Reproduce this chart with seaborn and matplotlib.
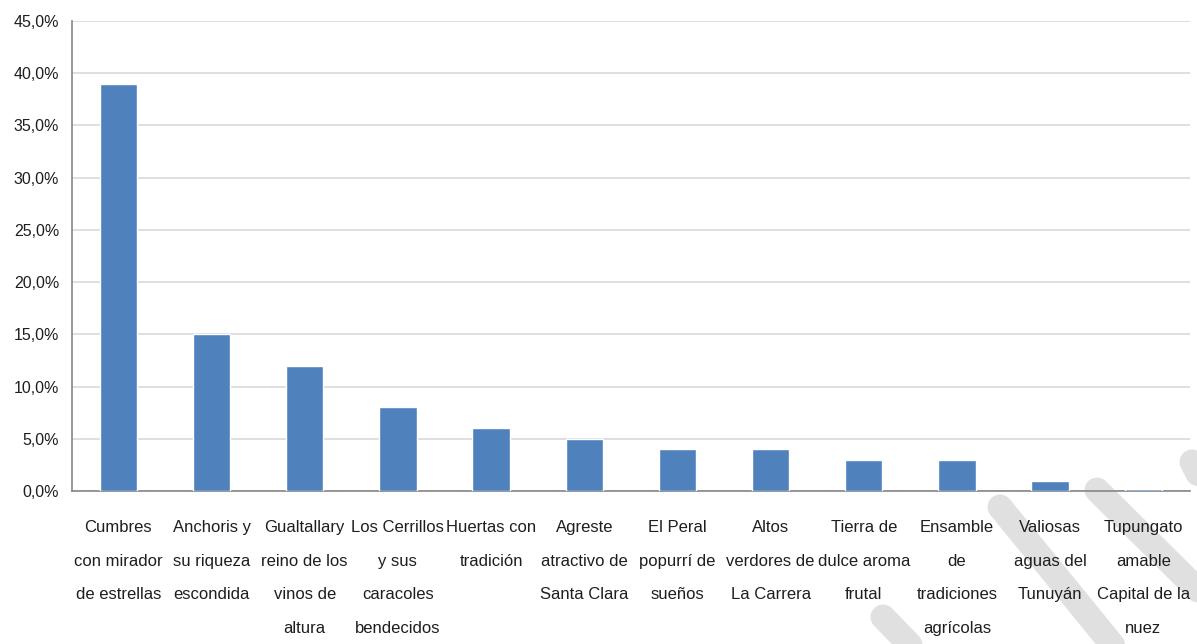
import matplotlib
matplotlib.use("Agg")
import matplotlib.pyplot as plt
from matplotlib.lines import Line2D
from matplotlib.ticker import FuncFormatter, FixedLocator, NullFormatter
import seaborn as sns
import pandas as pd

categories = [
    "Cumbres\ncon mirador\nde estrellas",
    "Anchoris y\nsu riqueza\nescondida",
    "Gualtallary\nreino de los\nvinos de\naltura",
    "Los Cerrillos\ny sus\ncaracoles\nbendecidos",
    "Huertas con\ntradición",
    "Agreste\natractivo de\nSanta Clara",
    "El Peral\npopurrí de\nsueños",
    "Altos\nverdores de\nLa Carrera",
    "Tierra de\ndulce aroma\nfrutal",
    "Ensamble\nde\ntradiciones\nagrícolas",
    "Valiosas\naguas del\nTunuyán",
    "Tupungato\namable\nCapital de la\nnuez",
]
percentages = [39.0, 15.0, 12.0, 8.0, 6.0, 5.0, 4.0, 4.0, 3.0, 3.0, 1.0, 0.2]
y_ticks = [0, 5, 10, 15, 20, 25, 30, 35, 40, 45]

sns.set_style("white")
plt.rcParams["font.family"] = ["Liberation Sans", "DejaVu Sans"]

df = pd.DataFrame({"cat": categories, "pct": percentages})

fig = plt.figure(figsize=(11.97, 6.44), dpi=100)
ax = fig.add_axes([0.060, 0.2376, 0.934, 0.7298])
ax.set_facecolor("none")

sns.barplot(data=df, x="cat", y="pct", color="#4F81BD", saturation=1,
            width=0.4, ax=ax, zorder=3)

ax.set_xlim(-0.5, len(categories) - 0.5)
ax.set_ylim(0, 45)
ax.yaxis.set_major_locator(FixedLocator(y_ticks))
ax.yaxis.set_major_formatter(FuncFormatter(lambda v, p: f"{v:.1f}".replace(".", ",") + "%"))
ax.grid(axis="y", color="#d9d9d9", linewidth=1.2, zorder=0)
ax.set_axisbelow(True)
ax.set_xlabel("")
ax.set_ylabel("")

for side in ("top", "right"):
    ax.spines[side].set_visible(False)
for side in ("left", "bottom"):
    ax.spines[side].set_color("#868686")
    ax.spines[side].set_linewidth(1.2)

ax.tick_params(axis="y", which="major", length=6, width=1.2, color="#868686",
               labelsize=11.5, labelcolor="#1e1e1e", pad=3)
ax.tick_params(axis="x", which="major", length=0, labelsize=12,
               labelcolor="#1e1e1e", pad=21)
ax.set_xticks(range(len(categories)))
ax.set_xticklabels(categories, linespacing=2.55, ha="center", va="top")
ax.set_xticks([i - 0.5 for i in range(len(categories) + 1)], minor=True)
ax.xaxis.set_minor_formatter(NullFormatter())
ax.tick_params(axis="x", which="minor", length=8, width=1.2, color="#868686")

# light diagonal stripes in the lower right corner
W, H = 1197, 644
stripes = [((1000, 507), (1115, 648)), ((1097, 490), (1200, 592)),
           ((883, 617), (915, 650)), ((1192, 462), (1205, 487))]
for (x0, y0), (x1, y1) in stripes:
    fig.add_artist(Line2D([x0 / W, x1 / W], [1 - y0 / H, 1 - y1 / H],
                          color="#e0e0e0", linewidth=18, solid_capstyle="round",
                          transform=fig.transFigure, zorder=-1))

fig.savefig("out.png", dpi=100, facecolor="white")
